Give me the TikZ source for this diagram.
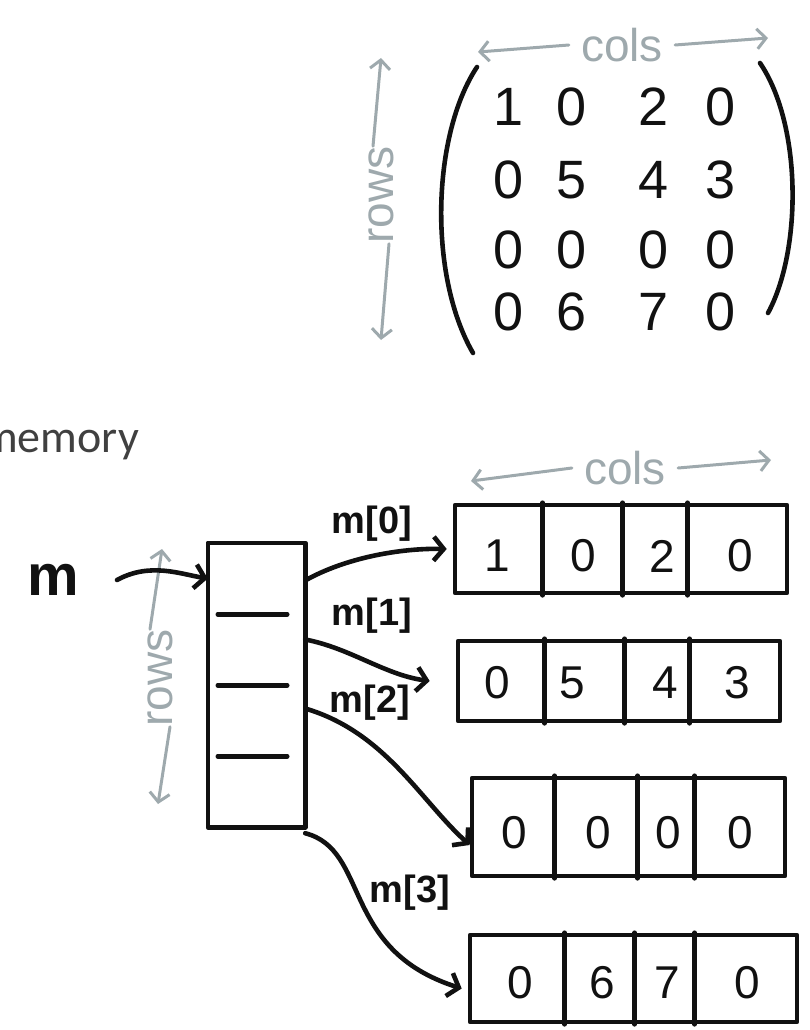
\documentclass[tikz,border=0pt]{standalone}
\usepackage{fontspec}
\setmainfont{Liberation Sans}
\newfontfamily\memfont{Carlito}
\usetikzlibrary{arrows.meta}
\definecolor{pen}{HTML}{111111}
\definecolor{chalk}{HTML}{9EA9AD}
\definecolor{memgray}{HTML}{404040}
\begin{document}
\begin{tikzpicture}[x=1pt,y=-1pt,line cap=round,line join=round,
  ink/.style={draw=pen,line width=4.6pt},
  faint/.style={draw=chalk,line width=3pt},
  arr/.style={-{Straight Barb[length=10pt,width=24pt]}},
  garr/.style={faint,-{Straight Barb[length=9pt,width=20pt]}},
  mdig/.style={text=pen,font=\fontsize{54}{60}\selectfont,inner sep=0pt},
  rdig/.style={text=pen,font=\fontsize{46}{52}\selectfont,inner sep=0pt},
  lbl/.style={text=pen,font=\bfseries\fontsize{38}{44}\selectfont,inner sep=0pt},
  glbl/.style={text=chalk,font=\fontsize{46}{52}\selectfont,inner sep=0pt},
  cellbox/.style={minimum width=97,minimum height=71,inner sep=0pt},
  rowbox/.style={ink,inner sep=0pt},
]
\useasboundingbox (0,0) rectangle (810,1030);
\clip (0,0) rectangle (810,1030);

% ---------- top: matrix ----------
\node[glbl] (colsA) at (622,45) {cols};
\draw[garr] ([xshift=-12]colsA.west) -- (478,52);
\draw[garr] ([xshift=12]colsA.east) -- (768,38);
\node[glbl,rotate=90] (rowsA) at (381,195) {rows};
\draw[garr] ([xshift=-8]rowsA.east) -- (381,58);
\draw[garr] ([xshift=8]rowsA.west) -- (381,340);

\draw[ink] (477,67) .. controls (432,135) and (428,275) .. (473,353);
\draw[ink] (760,63) .. controls (802,125) and (802,250) .. (768,313);

\node[mdig] (a11) at (509,107) {1};
\node[mdig] (a12) at (572,107) {0};
\node[mdig] (a13) at (654,107) {2};
\node[mdig] (a14) at (721,107) {0};
\node[mdig] (a21) at (509,180) {0};
\node[mdig] (a22) at (572,180) {5};
\node[mdig] (a23) at (654,180) {4};
\node[mdig] (a24) at (721,180) {3};
\node[mdig] (a31) at (509,250) {0};
\node[mdig] (a32) at (572,250) {0};
\node[mdig] (a33) at (654,250) {0};
\node[mdig] (a34) at (721,250) {0};
\node[mdig] (a41) at (509,312) {0};
\node[mdig] (a42) at (572,312) {6};
\node[mdig] (a43) at (654,312) {7};
\node[mdig] (a44) at (721,312) {0};

% ---------- memory label ----------
\node[anchor=base west,inner sep=0pt,text=memgray,font=\memfont\fontsize{46}{50}\selectfont] (mem) at (-19,452) {memory};

% ---------- pointer array ----------
\node[lbl,font=\bfseries\fontsize{58}{62}\selectfont] (m) at (53,580) {m};

\node[cellbox] (c0) at (256.5,578.5) {};
\node[cellbox] (c1) at (256.5,649.5) {};
\node[cellbox] (c2) at (256.5,720.5) {};
\node[cellbox] (c3) at (256.5,791.5) {};
\draw[ink] (c0.north west) rectangle (c3.south east);
\draw[ink] ([xshift=10]c0.south west) -- ([xshift=-18]c0.south east);
\draw[ink] ([xshift=10]c1.south west) -- ([xshift=-18]c1.south east);
\draw[ink] ([xshift=10]c2.south west) -- ([xshift=-18]c2.south east);

\node[glbl,rotate=90] (rowsB) at (160,678) {rows};
\draw[garr] ([xshift=-10]rowsB.east) -- (162,549);
\draw[garr] ([xshift=10]rowsB.west) -- (158,804);

\draw[ink,arr] ([xshift=38]m.east) .. controls (150,562) and (180,574) .. (c0.west);

% ---------- row arrays ----------
\node[glbl] (colsB) at (625,468) {cols};
\draw[garr] ([xshift=-12]colsB.west) -- (471,481);
\draw[garr] ([xshift=12]colsB.east) -- (771,460);

\node[rowbox,minimum width=332,minimum height=88] (r0) at (621,549) {};
\draw[ink] ([xshift=90]r0.north west) -- ([xshift=90]r0.south west);
\draw[ink] ([xshift=170]r0.north west) -- ([xshift=170]r0.south west);
\draw[ink] ([xshift=235]r0.north west) -- ([xshift=235]r0.south west);
\node[rdig] (b01) at (497,556) {1};
\node[rdig] (b02) at (583,556) {0};
\node[rdig] (b03) at (662,556) {2};
\node[rdig] (b04) at (740,556) {0};

\node[rowbox,minimum width=322,minimum height=80] (r1) at (619,681) {};
\draw[ink] ([xshift=89]r1.north west) -- ([xshift=89]r1.south west);
\draw[ink] ([xshift=169]r1.north west) -- ([xshift=169]r1.south west);
\draw[ink] ([xshift=234]r1.north west) -- ([xshift=234]r1.south west);
\node[rdig] (b11) at (497,683) {0};
\node[rdig] (b12) at (572,683) {5};
\node[rdig] (b13) at (665,683) {4};
\node[rdig] (b14) at (737,683) {3};

\node[rowbox,minimum width=313,minimum height=98] (r2) at (628.5,827) {};
\draw[ink] ([xshift=85]r2.north west) -- ([xshift=85]r2.south west);
\draw[ink] ([xshift=168]r2.north west) -- ([xshift=168]r2.south west);
\draw[ink] ([xshift=225]r2.north west) -- ([xshift=225]r2.south west);
\node[rdig] (b21) at (514,833) {0};
\node[rdig] (b22) at (598,833) {0};
\node[rdig] (b23) at (668,833) {0};
\node[rdig] (b24) at (740,833) {0};

\node[rowbox,minimum width=327,minimum height=87] (r3) at (633.5,978.5) {};
\draw[ink] ([xshift=97]r3.north west) -- ([xshift=97]r3.south west);
\draw[ink] ([xshift=167]r3.north west) -- ([xshift=167]r3.south west);
\draw[ink] ([xshift=227]r3.north west) -- ([xshift=227]r3.south west);
\node[rdig] (b31) at (520,983) {0};
\node[rdig] (b32) at (602,983) {6};
\node[rdig] (b33) at (667,983) {7};
\node[rdig] (b34) at (747,983) {0};

% ---------- pointer connectors ----------
\draw[ink,arr] ([yshift=-2]c0.east) .. controls (345,558) and (400,548) .. ([xshift=-6]r0.west);
\node[lbl] (l0) at (372,524) {m[0]};
\draw[ink,arr] ([yshift=10]c1.east) .. controls (350,648) and (385,675) .. ([xshift=-26]r1.west);
\node[lbl] (l1) at (372,616) {m[1]};
\draw[ink,arr] ([yshift=12]c2.east) .. controls (385,732) and (420,800) .. ([yshift=-18]r2.west);
\node[lbl] (l2) at (370,703) {m[2]};
\draw[ink,arr] ([yshift=-6]c3.south east) .. controls (370,850) and (340,950) .. ([xshift=-6,yshift=-10]r3.west);
\node[lbl] (l3) at (410,893) {m[3]};
\end{tikzpicture}
\end{document}
